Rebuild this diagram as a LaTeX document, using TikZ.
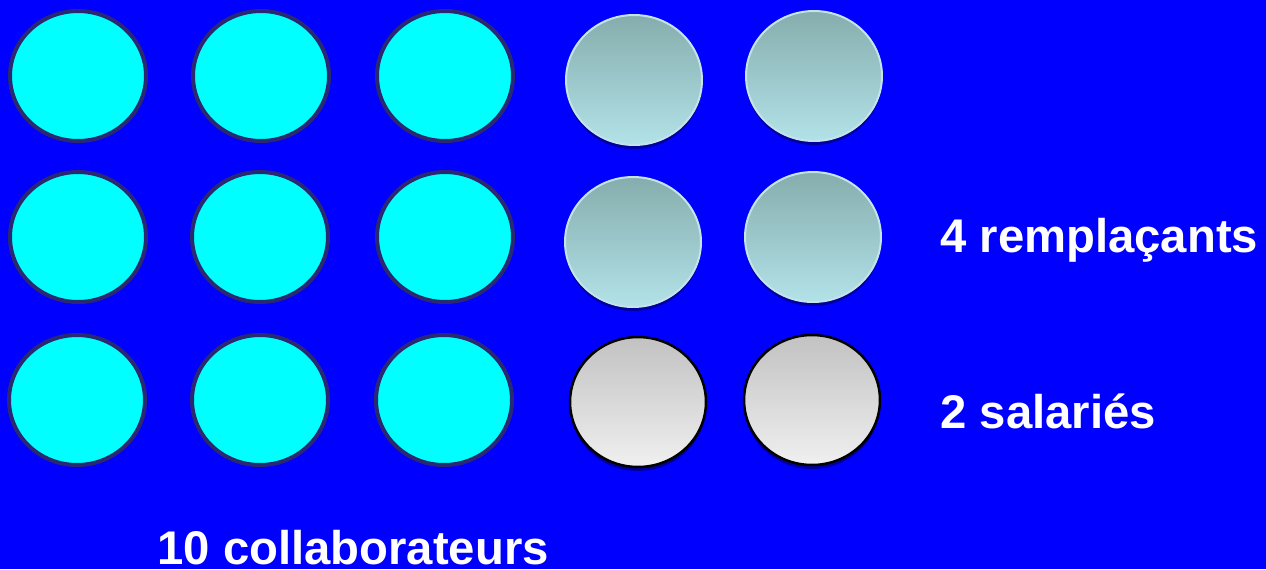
\documentclass[tikz,border=0pt]{standalone}
\usepackage{fontspec}
\setmainfont{Liberation Sans}
\usepackage{xcolor}
\usepackage{tikz}
\usetikzlibrary{shapes.geometric, shadows}

\definecolor{fond}{HTML}{0000FF}
\definecolor{collabfond}{HTML}{00FFFF}
\definecolor{bordcol}{HTML}{2A2870}
\definecolor{remhaut}{HTML}{86ADAD}
\definecolor{rembas}{HTML}{B2E2E8}
\definecolor{rembord}{HTML}{C4E4EC}
\definecolor{ombre}{HTML}{0000A0}

\begin{document}
\begin{tikzpicture}[
  x=0.02cm, y=-0.02cm,
  pion/.style={ellipse,minimum width=2.72cm,minimum height=2.6cm,inner sep=0pt},
  collab/.style={pion,fill=collabfond,draw=bordcol,line width=0.08cm},
  rempl/.style={pion,top color=remhaut,bottom color=rembas,draw=rembord,line width=0.04cm,
    drop shadow={shadow xshift=0cm,shadow yshift=-0.08cm,fill=ombre,opacity=1}},
  sal/.style={pion,top color=black!24,bottom color=black!6,draw=black,line width=0.05cm,
    drop shadow={shadow xshift=0cm,shadow yshift=-0.08cm,fill=ombre,opacity=1}},
  etiq/.style={text=white,font=\fontsize{26.9}{31}\selectfont\bfseries,inner sep=0pt,anchor=base west}
]
  \fill[fond] (0,0) rectangle (1266,569);
  \useasboundingbox (0,0) rectangle (1266,569);

  % collaborateurs
  \node[collab] (c11) at (78,76)  {};
  \node[collab] (c12) at (261,76) {};
  \node[collab] (c13) at (445,76) {};
  \node[collab] (c21) at (78,237)  {};
  \node[collab] (c22) at (260,237) {};
  \node[collab] (c23) at (445,237) {};
  \node[collab] (c31) at (77,400)  {};
  \node[collab] (c32) at (260,400) {};
  \node[collab] (c33) at (444,400) {};

  % remplacants
  \node[rempl] (r1) at (634,80)  {};
  \node[rempl] (r2) at (814,76)  {};
  \node[rempl] (r3) at (633,242) {};
  \node[rempl] (r4) at (813,237) {};

  % salaries
  \node[sal] (s1) at (638,402) {};
  \node[sal] (s2) at (812,400) {};

  \node[etiq] (lrem) at (940,252) {4 remplaçants};
  \node[etiq] (lsal) at (940,428) {2 salariés};
  \node[etiq] (lcol) at (157,564) {10 collaborateurs};
\end{tikzpicture}
\end{document}
